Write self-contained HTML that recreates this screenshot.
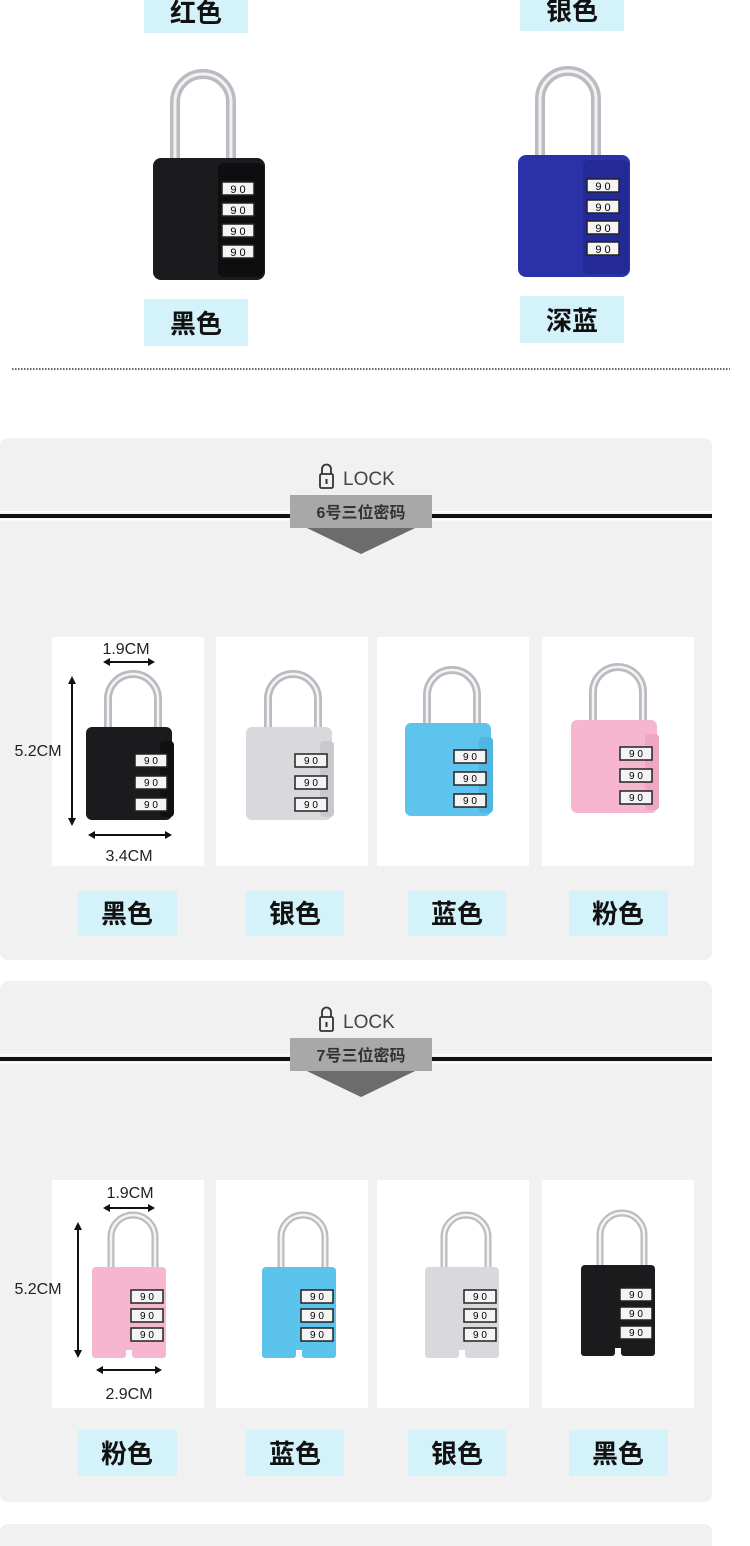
<!DOCTYPE html>
<html><head><meta charset="utf-8"><style>
html,body{margin:0;padding:0;background:#fff;}
svg{display:block}
text{font-family:"Liberation Sans","Noto Sans CJK SC",sans-serif;}
</style></head><body>
<svg width="750" height="1546" viewBox="0 0 750 1546" xmlns="http://www.w3.org/2000/svg">
<defs>
<g id="dial"><rect x="0" y="0" width="32" height="13" fill="#f4f4f4" stroke="#222" stroke-width="1.5"/></g>
</defs>
<rect width="750" height="1546" fill="#fff"/>

<rect x="144" y="0" width="104" height="33" fill="#d3f2f9"/>
<text x="196" y="22" font-size="26" text-anchor="middle" fill="#111" font-weight="bold">红色</text>
<rect x="520" y="0" width="104" height="31" fill="#d3f2f9"/>
<text x="572" y="20" font-size="26" text-anchor="middle" fill="#111" font-weight="bold">银色</text>

<g>
<path d="M175 165 V102 A28 28 0 0 1 231 102 V165" fill="none" stroke="#b9bcc1" stroke-width="10"/>
<path d="M175 165 V102 A28 28 0 0 1 231 102 V165" fill="none" stroke="#f2f2f2" stroke-width="3"/>
<rect x="153" y="158" width="112" height="122" rx="8" fill="#1b1b1d"/>
<rect x="218" y="163" width="46" height="114" rx="6" fill="#0e0e10"/>
<use href="#dial" x="222" y="182"/><use href="#dial" x="222" y="203"/><use href="#dial" x="222" y="224"/><use href="#dial" x="222" y="245"/>
<text x="238" y="193" font-size="11" text-anchor="middle">9 0</text><text x="238" y="214" font-size="11" text-anchor="middle">9 0</text><text x="238" y="235" font-size="11" text-anchor="middle">9 0</text><text x="238" y="256" font-size="11" text-anchor="middle">9 0</text>
</g>
<g transform="translate(365,-3)">
<path d="M175 165 V102 A28 28 0 0 1 231 102 V165" fill="none" stroke="#b9bcc1" stroke-width="10"/>
<path d="M175 165 V102 A28 28 0 0 1 231 102 V165" fill="none" stroke="#f2f2f2" stroke-width="3"/>
<rect x="153" y="158" width="112" height="122" rx="8" fill="#2b31a6"/>
<rect x="218" y="163" width="46" height="114" rx="6" fill="#232996"/>
<use href="#dial" x="222" y="182"/><use href="#dial" x="222" y="203"/><use href="#dial" x="222" y="224"/><use href="#dial" x="222" y="245"/>
<text x="238" y="193" font-size="11" text-anchor="middle">9 0</text><text x="238" y="214" font-size="11" text-anchor="middle">9 0</text><text x="238" y="235" font-size="11" text-anchor="middle">9 0</text><text x="238" y="256" font-size="11" text-anchor="middle">9 0</text>
</g>

<rect x="144" y="299" width="104" height="47" fill="#d3f2f9"/>
<text x="196" y="333" font-size="26" text-anchor="middle" fill="#111" font-weight="bold">黑色</text>
<rect x="520" y="296" width="104" height="47" fill="#d3f2f9"/>
<text x="572" y="330" font-size="26" text-anchor="middle" fill="#111" font-weight="bold">深蓝</text>

<line x1="12" y1="369" x2="730" y2="369" stroke="#333" stroke-width="1.5" stroke-dasharray="1.5 1.5"/>

<rect x="0" y="438" width="712" height="522" rx="8" fill="#f1f1f1"/>
<g>
<rect x="320" y="474" width="13" height="14" rx="1.5" fill="none" stroke="#333" stroke-width="1.8"/>
<path d="M322 474 V469 A4.5 4.5 0 0 1 331 469 V474" fill="none" stroke="#333" stroke-width="1.8"/>
<rect x="325.5" y="479" width="2" height="5" fill="#333"/>
<text x="343" y="485" font-size="19" fill="#444">LOCK</text>
</g>
<rect x="0" y="511" width="712" height="1.5" fill="#fff"/>
<rect x="0" y="514" width="712" height="4" fill="#111"/>
<rect x="0" y="519" width="712" height="1.5" fill="#fff"/>
<polygon points="290,495 432,495 432,528 415,528 361,554 307,528 290,528" fill="#a8a8a8"/>
<polygon points="307,528 415,528 361,554" fill="#6c6c6c"/>
<text x="361" y="518" font-size="16" font-weight="bold" text-anchor="middle" fill="#333">6号三位密码</text>

<rect x="52" y="637" width="152" height="229" fill="#fff"/>
<rect x="216" y="637" width="152" height="229" fill="#fff"/>
<rect x="377" y="637" width="152" height="229" fill="#fff"/>
<rect x="542" y="637" width="152" height="229" fill="#fff"/>

<g transform="translate(52,637)">
<path d="M56 95 V62 A25 25 0 0 1 106 62 V95" fill="none" stroke="#b9bcc1" stroke-width="8"/>
<path d="M56 95 V62 A25 25 0 0 1 106 62 V95" fill="none" stroke="#f4f4f4" stroke-width="2.5"/>
<rect x="34" y="90" width="86" height="93" rx="6" fill="#1b1b1d"/>
<rect x="108" y="104" width="14" height="76" rx="4" fill="#101012"/>
<use href="#dial" x="83" y="117"/><use href="#dial" x="83" y="139"/><use href="#dial" x="83" y="161"/>
<text x="99" y="127" font-size="10" text-anchor="middle">9 0</text><text x="99" y="149" font-size="10" text-anchor="middle">9 0</text><text x="99" y="171" font-size="10" text-anchor="middle">9 0</text>
</g>
<g transform="translate(212,637)">
<path d="M56 95 V62 A25 25 0 0 1 106 62 V95" fill="none" stroke="#b9bcc1" stroke-width="8"/>
<path d="M56 95 V62 A25 25 0 0 1 106 62 V95" fill="none" stroke="#f4f4f4" stroke-width="2.5"/>
<rect x="34" y="90" width="86" height="93" rx="6" fill="#d9d9dd"/>
<rect x="108" y="104" width="14" height="76" rx="4" fill="#c9c9cd"/>
<use href="#dial" x="83" y="117"/><use href="#dial" x="83" y="139"/><use href="#dial" x="83" y="161"/>
<text x="99" y="127" font-size="10" text-anchor="middle">9 0</text><text x="99" y="149" font-size="10" text-anchor="middle">9 0</text><text x="99" y="171" font-size="10" text-anchor="middle">9 0</text>
</g>
<g transform="translate(371,633)">
<path d="M56 95 V62 A25 25 0 0 1 106 62 V95" fill="none" stroke="#b9bcc1" stroke-width="8"/>
<path d="M56 95 V62 A25 25 0 0 1 106 62 V95" fill="none" stroke="#f4f4f4" stroke-width="2.5"/>
<rect x="34" y="90" width="86" height="93" rx="6" fill="#5ec4ee"/>
<rect x="108" y="104" width="14" height="76" rx="4" fill="#4fb6e2"/>
<use href="#dial" x="83" y="117"/><use href="#dial" x="83" y="139"/><use href="#dial" x="83" y="161"/>
<text x="99" y="127" font-size="10" text-anchor="middle">9 0</text><text x="99" y="149" font-size="10" text-anchor="middle">9 0</text><text x="99" y="171" font-size="10" text-anchor="middle">9 0</text>
</g>
<g transform="translate(537,630)">
<path d="M56 95 V62 A25 25 0 0 1 106 62 V95" fill="none" stroke="#b9bcc1" stroke-width="8"/>
<path d="M56 95 V62 A25 25 0 0 1 106 62 V95" fill="none" stroke="#f4f4f4" stroke-width="2.5"/>
<rect x="34" y="90" width="86" height="93" rx="6" fill="#f6b6d0"/>
<rect x="108" y="104" width="14" height="76" rx="4" fill="#eda7c4"/>
<use href="#dial" x="83" y="117"/><use href="#dial" x="83" y="139"/><use href="#dial" x="83" y="161"/>
<text x="99" y="127" font-size="10" text-anchor="middle">9 0</text><text x="99" y="149" font-size="10" text-anchor="middle">9 0</text><text x="99" y="171" font-size="10" text-anchor="middle">9 0</text>
</g>
<text x="126" y="654" font-size="16" text-anchor="middle" fill="#222">1.9CM</text>
<line x1="108" y1="662" x2="150" y2="662" stroke="#111" stroke-width="2"/>
<polygon points="103,662 110,658 110,666" fill="#111"/><polygon points="155,662 148,658 148,666" fill="#111"/>
<text x="38" y="756" font-size="16" text-anchor="middle" fill="#222">5.2CM</text>
<line x1="72" y1="682" x2="72" y2="820" stroke="#111" stroke-width="2"/>
<polygon points="72,676 68,684 76,684" fill="#111"/><polygon points="72,826 68,818 76,818" fill="#111"/>
<line x1="93" y1="835" x2="167" y2="835" stroke="#111" stroke-width="2"/>
<polygon points="88,835 95,831 95,839" fill="#111"/><polygon points="172,835 165,831 165,839" fill="#111"/>
<text x="129" y="861" font-size="16" text-anchor="middle" fill="#222">3.4CM</text>

<rect x="78" y="891" width="99" height="45" fill="#d3f2f9"/><text x="127" y="923" font-size="26" text-anchor="middle" fill="#111" font-weight="bold">黑色</text>
<rect x="246" y="891" width="98" height="45" fill="#d3f2f9"/><text x="295" y="923" font-size="26" text-anchor="middle" fill="#111" font-weight="bold">银色</text>
<rect x="408" y="891" width="98" height="45" fill="#d3f2f9"/><text x="457" y="923" font-size="26" text-anchor="middle" fill="#111" font-weight="bold">蓝色</text>
<rect x="569" y="891" width="99" height="45" fill="#d3f2f9"/><text x="618" y="923" font-size="26" text-anchor="middle" fill="#111" font-weight="bold">粉色</text>

<rect x="0" y="981" width="712" height="521" rx="8" fill="#f1f1f1"/>
<g transform="translate(0,543)">
<rect x="320" y="474" width="13" height="14" rx="1.5" fill="none" stroke="#333" stroke-width="1.8"/>
<path d="M322 474 V469 A4.5 4.5 0 0 1 331 469 V474" fill="none" stroke="#333" stroke-width="1.8"/>
<rect x="325.5" y="479" width="2" height="5" fill="#333"/>
<text x="343" y="485" font-size="19" fill="#444">LOCK</text>
<rect x="0" y="511" width="712" height="1.5" fill="#fff"/>
<rect x="0" y="514" width="712" height="4" fill="#111"/>
<rect x="0" y="519" width="712" height="1.5" fill="#fff"/>
<polygon points="290,495 432,495 432,528 415,528 361,554 307,528 290,528" fill="#a8a8a8"/>
<polygon points="307,528 415,528 361,554" fill="#6c6c6c"/>
<text x="361" y="518" font-size="16" font-weight="bold" text-anchor="middle" fill="#333">7号三位密码</text>
</g>

<rect x="52" y="1180" width="152" height="228" fill="#fff"/>
<rect x="216" y="1180" width="152" height="228" fill="#fff"/>
<rect x="377" y="1180" width="152" height="228" fill="#fff"/>
<rect x="542" y="1180" width="152" height="228" fill="#fff"/>

<g transform="translate(52,1180)">
<path d="M59 92 V57 A22 22 0 0 1 103 57 V92" fill="none" stroke="#b9bcc1" stroke-width="7"/>
<path d="M59 92 V57 A22 22 0 0 1 103 57 V92" fill="none" stroke="#f4f4f4" stroke-width="2.5"/>
<rect x="40" y="87" width="74" height="83" rx="4" fill="#f6b6d0"/>
<rect x="40" y="165" width="34" height="13" rx="3" fill="#f6b6d0"/><rect x="80" y="165" width="34" height="13" rx="3" fill="#f6b6d0"/>
<use href="#dial" x="79" y="110"/><use href="#dial" x="79" y="129"/><use href="#dial" x="79" y="148"/>
<text x="95" y="120" font-size="10" text-anchor="middle">9 0</text><text x="95" y="139" font-size="10" text-anchor="middle">9 0</text><text x="95" y="158" font-size="10" text-anchor="middle">9 0</text>
</g>
<g transform="translate(222,1180)">
<path d="M59 92 V57 A22 22 0 0 1 103 57 V92" fill="none" stroke="#b9bcc1" stroke-width="7"/>
<path d="M59 92 V57 A22 22 0 0 1 103 57 V92" fill="none" stroke="#f4f4f4" stroke-width="2.5"/>
<rect x="40" y="87" width="74" height="83" rx="4" fill="#5cc4ec"/>
<rect x="40" y="165" width="34" height="13" rx="3" fill="#5cc4ec"/><rect x="80" y="165" width="34" height="13" rx="3" fill="#5cc4ec"/>
<use href="#dial" x="79" y="110"/><use href="#dial" x="79" y="129"/><use href="#dial" x="79" y="148"/>
<text x="95" y="120" font-size="10" text-anchor="middle">9 0</text><text x="95" y="139" font-size="10" text-anchor="middle">9 0</text><text x="95" y="158" font-size="10" text-anchor="middle">9 0</text>
</g>
<g transform="translate(385,1180)">
<path d="M59 92 V57 A22 22 0 0 1 103 57 V92" fill="none" stroke="#b9bcc1" stroke-width="7"/>
<path d="M59 92 V57 A22 22 0 0 1 103 57 V92" fill="none" stroke="#f4f4f4" stroke-width="2.5"/>
<rect x="40" y="87" width="74" height="83" rx="4" fill="#d9d9dd"/>
<rect x="40" y="165" width="34" height="13" rx="3" fill="#d9d9dd"/><rect x="80" y="165" width="34" height="13" rx="3" fill="#d9d9dd"/>
<use href="#dial" x="79" y="110"/><use href="#dial" x="79" y="129"/><use href="#dial" x="79" y="148"/>
<text x="95" y="120" font-size="10" text-anchor="middle">9 0</text><text x="95" y="139" font-size="10" text-anchor="middle">9 0</text><text x="95" y="158" font-size="10" text-anchor="middle">9 0</text>
</g>
<g transform="translate(541,1178)">
<path d="M59 92 V57 A22 22 0 0 1 103 57 V92" fill="none" stroke="#b9bcc1" stroke-width="7"/>
<path d="M59 92 V57 A22 22 0 0 1 103 57 V92" fill="none" stroke="#f4f4f4" stroke-width="2.5"/>
<rect x="40" y="87" width="74" height="83" rx="4" fill="#1b1b1d"/>
<rect x="40" y="165" width="34" height="13" rx="3" fill="#1b1b1d"/><rect x="80" y="165" width="34" height="13" rx="3" fill="#1b1b1d"/>
<use href="#dial" x="79" y="110"/><use href="#dial" x="79" y="129"/><use href="#dial" x="79" y="148"/>
<text x="95" y="120" font-size="10" text-anchor="middle">9 0</text><text x="95" y="139" font-size="10" text-anchor="middle">9 0</text><text x="95" y="158" font-size="10" text-anchor="middle">9 0</text>
</g>
<text x="130" y="1198" font-size="16" text-anchor="middle" fill="#222">1.9CM</text>
<line x1="108" y1="1208" x2="150" y2="1208" stroke="#111" stroke-width="2"/>
<polygon points="103,1208 110,1204 110,1212" fill="#111"/><polygon points="155,1208 148,1204 148,1212" fill="#111"/>
<text x="38" y="1294" font-size="16" text-anchor="middle" fill="#222">5.2CM</text>
<line x1="78" y1="1228" x2="78" y2="1352" stroke="#111" stroke-width="2"/>
<polygon points="78,1222 74,1230 82,1230" fill="#111"/><polygon points="78,1358 74,1350 82,1350" fill="#111"/>
<line x1="101" y1="1370" x2="157" y2="1370" stroke="#111" stroke-width="2"/>
<polygon points="96,1370 103,1366 103,1374" fill="#111"/><polygon points="162,1370 155,1366 155,1374" fill="#111"/>
<text x="129" y="1399" font-size="16" text-anchor="middle" fill="#222">2.9CM</text>

<rect x="78" y="1430" width="99" height="46" fill="#d3f2f9"/><text x="127" y="1463" font-size="26" text-anchor="middle" fill="#111" font-weight="bold">粉色</text>
<rect x="246" y="1430" width="98" height="46" fill="#d3f2f9"/><text x="295" y="1463" font-size="26" text-anchor="middle" fill="#111" font-weight="bold">蓝色</text>
<rect x="408" y="1430" width="98" height="46" fill="#d3f2f9"/><text x="457" y="1463" font-size="26" text-anchor="middle" fill="#111" font-weight="bold">银色</text>
<rect x="569" y="1430" width="99" height="46" fill="#d3f2f9"/><text x="618" y="1463" font-size="26" text-anchor="middle" fill="#111" font-weight="bold">黑色</text>

<rect x="0" y="1524" width="712" height="40" rx="8" fill="#f1f1f1"/>
</svg>
</body></html>
